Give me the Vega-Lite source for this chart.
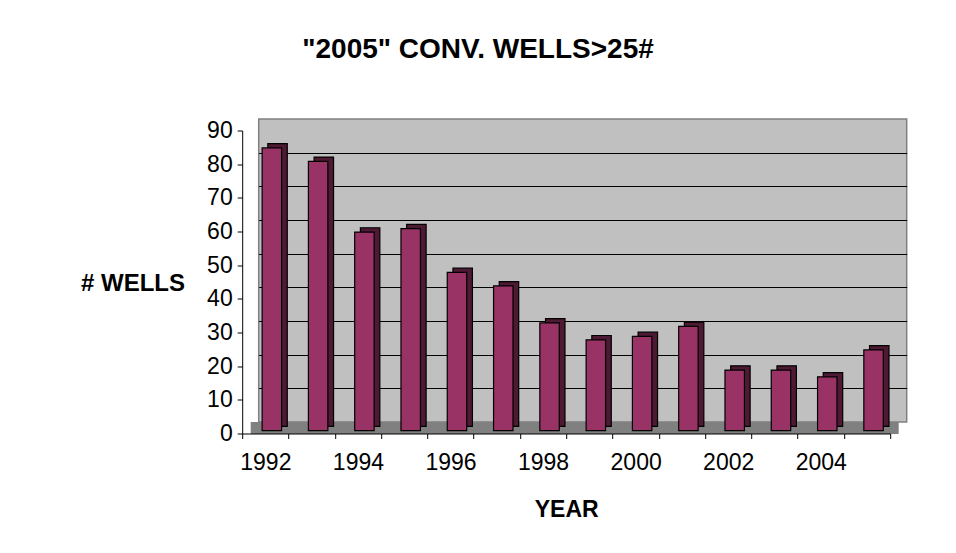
{
  "$schema": "https://vega.github.io/schema/vega-lite/v6.json",
  "width": 648,
  "height": 303,
  "autosize": {"type": "none"},
  "padding": {"left": 258.7, "top": 119, "right": 49.3, "bottom": 131},
  "background": "white",
  "title": {
    "text": "\"2005\" CONV. WELLS>25#",
    "font": "Liberation Sans",
    "fontSize": 28,
    "fontWeight": "bold",
    "color": "black",
    "anchor": "middle",
    "frame": "group",
    "dx": -104.7,
    "baseline": "alphabetic",
    "offset": 22
  },
  "data": {
    "values": [
      {"year": 1992, "wells": 84},
      {"year": 1993, "wells": 80},
      {"year": 1994, "wells": 59},
      {"year": 1995, "wells": 60},
      {"year": 1996, "wells": 47},
      {"year": 1997, "wells": 43},
      {"year": 1998, "wells": 32},
      {"year": 1999, "wells": 27},
      {"year": 2000, "wells": 28},
      {"year": 2001, "wells": 31},
      {"year": 2002, "wells": 18},
      {"year": 2003, "wells": 18},
      {"year": 2004, "wells": 16},
      {"year": 2005, "wells": 24}
    ]
  },
  "layer": [
    {
      "mark": {"type": "bar", "fill": "#4D1933", "stroke": "black", "strokeWidth": 1.2, "width": {"band": 0.42}, "xOffset": -4.3, "yOffset": 4.4},
      "encoding": {
        "x": {
          "field": "year", "type": "ordinal",
          "scale": {"paddingInner": 0, "paddingOuter": 0},
          "axis": {"orient": "bottom", "labels": false, "ticks": false, "title": null, "grid": false, "domainColor": "#808080", "domainWidth": 12, "offset": 14, "translate": -8}
        },
        "y": {
          "field": "wells", "type": "quantitative",
          "scale": {"domain": [0, 90], "nice": false},
          "axis": {"orient": "left", "labels": false, "ticks": false, "domain": false, "title": null, "grid": true, "gridColor": "black", "gridWidth": 1, "gridOpacity": 1, "values": [10, 20, 30, 40, 50, 60, 70, 80]}
        }
      }
    },
    {
      "mark": {"type": "bar", "fill": "#993366", "stroke": "black", "strokeWidth": 1.2, "width": {"band": 0.42}, "xOffset": -10, "yOffset": 8.7},
      "encoding": {
        "x": {
          "field": "year", "type": "ordinal",
          "scale": {"paddingInner": 0, "paddingOuter": 0},
          "axis": {
            "orient": "bottom", "offset": 28, "translate": -16, "grid": false,
            "domainColor": "black", "domainWidth": 1, "tickColor": "black", "tickSize": 5, "tickBand": "extent",
            "labelExpr": "datum.value % 2 == 0 ? datum.label : ''",
            "labelAngle": 0, "labelOverlap": false, "labelFont": "Liberation Sans", "labelFontSize": 23, "labelColor": "black",
            "labelPadding": 31, "labelBaseline": "alphabetic",
            "title": "YEAR", "titleFont": "Liberation Sans", "titleFontSize": 23, "titleFontWeight": "bold", "titleColor": "black",
            "titleY": 82.7, "titleBaseline": "alphabetic"
          }
        },
        "y": {
          "field": "wells", "type": "quantitative",
          "scale": {"domain": [0, 90], "nice": false},
          "axis": {
            "orient": "left", "offset": 28, "translate": 12, "grid": false,
            "values": [0, 10, 20, 30, 40, 50, 60, 70, 80, 90],
            "domainColor": "black", "domainWidth": 1, "tickColor": "black", "tickSize": 5,
            "labelFont": "Liberation Sans", "labelFontSize": 23, "labelColor": "black", "labelPadding": 5, "labelBaseline": "middle",
            "title": "# WELLS", "titleFont": "Liberation Sans", "titleFontSize": 24, "titleFontWeight": "bold", "titleColor": "black",
            "titleAngle": 0, "titleX": -109.7, "titleY": 159.7, "titleAlign": "center", "titleBaseline": "alphabetic"
          }
        }
      }
    }
  ],
  "resolve": {"axis": {"x": "independent", "y": "independent"}},
  "config": {
    "font": "Liberation Sans",
    "view": {"fill": "#C0C0C0", "stroke": "#808080", "strokeWidth": 1.5}
  }
}
